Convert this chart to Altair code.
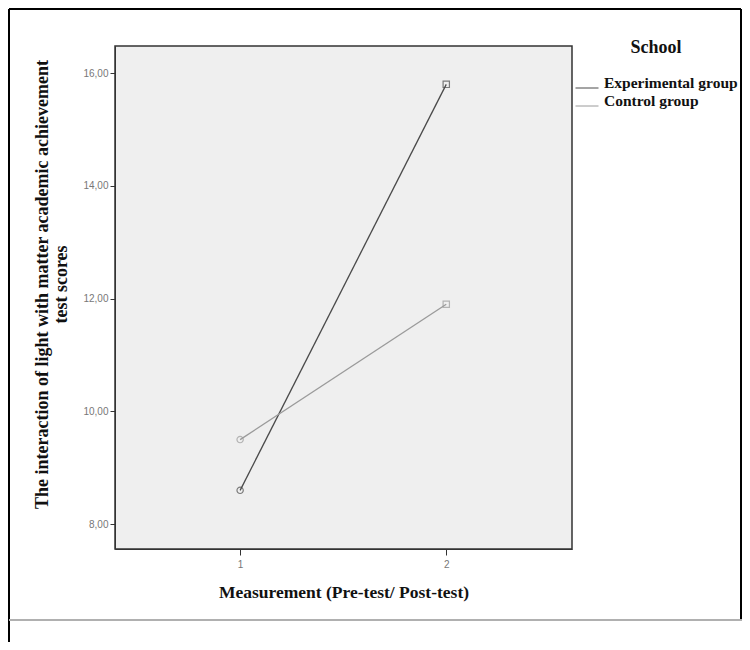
import altair as alt
import pandas as pd

# ---- data ----
measurement = [1, 2]
groups = ["Experimental group", "Control group"]
experimental = [8.6, 15.8]
control = [9.5, 11.9]
y_ticks = [8, 10, 12, 14, 16]

rows = []
for m, v in zip(measurement, experimental):
    rows.append({"Measurement": m, "Score": v, "School": groups[0]})
for m, v in zip(measurement, control):
    rows.append({"Measurement": m, "Score": v, "School": groups[1]})
df = pd.DataFrame(rows)

serif = "Liberation Serif"
sans = "Liberation Sans"
palette = ["#4a4a4a", "#9a9a9a"]

color = alt.Color(
    "School:N",
    scale=alt.Scale(domain=groups, range=palette),
    legend=alt.Legend(
        title="School",
        orient="none",
        legendX=460,
        legendY=-7,
        symbolType="stroke",
        symbolSize=529,
        symbolStrokeWidth=1,
        titleFont=serif,
        titleFontSize=18,
        titleFontWeight="bold",
        titleColor="#111",
        titleAnchor="middle",
        titlePadding=19,
        labelFont=serif,
        labelFontSize=15.5,
        labelFontWeight="bold",
        labelColor="#111",
        labelOffset=5,
        labelBaseline="alphabetic",
        rowPadding=2,
    ),
)

x = alt.X(
    "Measurement:Q",
    scale=alt.Scale(domain=[0.393, 2.61], nice=False, zero=False),
    axis=alt.Axis(
        values=measurement,
        labelExpr="format(datum.value, 'd')",
        grid=False,
        title="Measurement (Pre-test/ Post-test)",
        titleFont=serif,
        titleFontSize=17.5,
        titleFontWeight="bold",
        titleColor="#111",
        titlePadding=14,
        labelFont=sans,
        labelFontSize=10,
        labelColor="#777",
        labelPadding=4,
        tickSize=6,
        tickColor="#333",
        domainColor="#333",
    ),
)
y = alt.Y(
    "Score:Q",
    scale=alt.Scale(domain=[7.56, 16.48], nice=False, zero=False),
    axis=alt.Axis(
        values=y_ticks,
        labelExpr="replace(format(datum.value, '.2f'), '.', ',')",
        grid=False,
        title=["The interaction of light with matter academic achievement", "test scores"],
        titleFont=serif,
        titleFontSize=18,
        titleFontWeight="bold",
        titleColor="#111",
        titleLineHeight=19,
        titlePadding=12,
        titleY=238,
        labelFont=sans,
        labelFontSize=10,
        labelColor="#777",
        labelPadding=2,
        tickSize=5,
        tickColor="#333",
        domainColor="#333",
    ),
)

base = alt.Chart(df)

lines = base.mark_line(strokeWidth=1.3).encode(x=x, y=y, color=color)

pt_color = alt.Color("School:N", legend=None, scale=alt.Scale(domain=groups, range=palette))
pts1 = base.transform_filter(alt.datum.Measurement == 1).mark_point(
    shape="circle", size=40, filled=False, strokeWidth=1.2
).encode(x=x, y=y, color=pt_color)
pts2 = base.transform_filter(alt.datum.Measurement == 2).mark_point(
    shape="square", size=40, filled=False, strokeWidth=1.2
).encode(x=x, y=y, color=pt_color)

# page frame decorations (not data)
frame_left = alt.Chart(df).mark_rule(color="#000", strokeWidth=2).encode(
    x=alt.value(-106), y=alt.value(-37), y2=alt.value(596))
frame_top = alt.Chart(df).mark_rule(color="#000", strokeWidth=2).encode(
    x=alt.value(-106), x2=alt.value(626), y=alt.value(-37))
frame_right = alt.Chart(df).mark_rule(color="#000", strokeWidth=2).encode(
    x=alt.value(626), y=alt.value(-37), y2=alt.value(574))
frame_bottom = alt.Chart(df).mark_rule(color="#b0b0b0", strokeWidth=2).encode(
    x=alt.value(-106), x2=alt.value(627), y=alt.value(574))

chart = (
    alt.layer(lines, pts1, pts2, frame_left, frame_top, frame_right, frame_bottom)
    .properties(
        width=457,
        height=503,
        autosize=alt.AutoSizeParams(type="none"),
        padding={"left": 107, "top": 38, "right": 170, "bottom": 93},
        background="#ffffff",
    )
    .configure_view(fill="#efefef", stroke="#333333", strokeWidth=1.5)
)

chart.save("out.html", embed_options={"renderer": "svg", "actions": False})
